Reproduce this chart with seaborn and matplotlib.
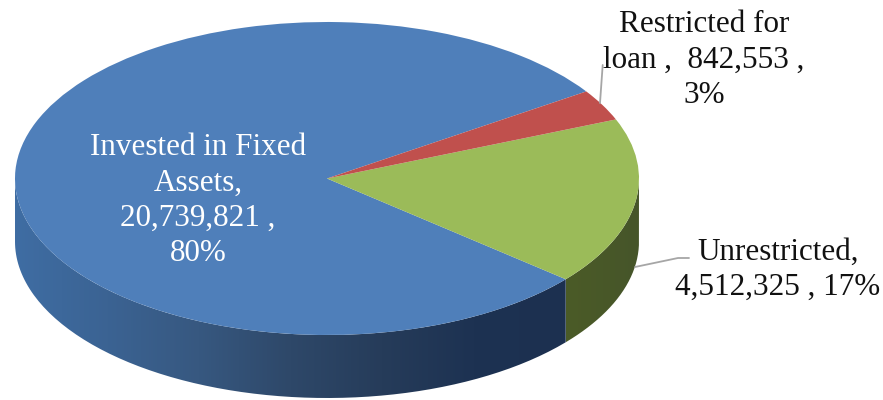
import numpy as np
import matplotlib
matplotlib.use("Agg")
import matplotlib.pyplot as plt
import seaborn as sns
from matplotlib.colors import LinearSegmentedColormap
from matplotlib.patches import PathPatch
from matplotlib.path import Path

categories = ["Invested in Fixed Assets", "Unrestricted", "Restricted for loan"]
values = [20739821, 4512325, 842553]
percents = [80, 17, 3]
top_colors = ["#4F7FBA", "#9BBB59", "#C0504D"]

W, H = 883, 400
CX, CY = 327, 178.5
RX, RY = 312, 156.5
DEPTH = 63 / RY
START = 33.8

sns.set_theme(style="white")
plt.rcParams["font.family"] = ["Liberation Serif", "DejaVu Serif"]

fig = plt.figure(figsize=(W / 100, H / 100), dpi=100)
ax = fig.add_axes([0, 0, 1, 1])


def px(x, y):
    return x / W, 1 - y / H


def side_path(a, b):
    t = np.radians(np.linspace(a, b, 120))
    xs = np.r_[np.cos(t), np.cos(t[::-1])]
    ys = np.r_[np.sin(t), np.sin(t[::-1]) - DEPTH]
    return Path(np.column_stack([xs, ys]))


limits = (-CX / RX, (W - CX) / RX, -(H - CY) / RY, CY / RY)

# side wall, one gradient per visible slice
sweeps = np.array(values) / sum(values) * 360
blue_end = START + sweeps[0]
blue_side = LinearSegmentedColormap.from_list(
    "blue_side", ["#3F6DA3", "#3B6393", "#375880", "#2E4869", "#263C5A", "#1D3252", "#1C3050"])
green_side = LinearSegmentedColormap.from_list("green_side", ["#4B5B27", "#46552A"])
grad = np.linspace(0, 1, 256).reshape(1, -1)
for a, b, cmap, x0, x1 in [(180, blue_end, blue_side, -1, np.cos(np.radians(blue_end))),
                           (blue_end, 360, green_side, np.cos(np.radians(blue_end)), 1)]:
    im = ax.imshow(grad, cmap=cmap, aspect="auto", extent=(x0, x1, -2, 2), zorder=1)
    patch = PathPatch(side_path(a, b), transform=ax.transData, fc="none", ec="none")
    ax.add_patch(patch)
    im.set_clip_path(patch)

# top face
ax.pie(values, colors=top_colors, startangle=START, radius=1, center=(0, 0),
       wedgeprops={"linewidth": 0, "zorder": 3})
ax.set_aspect("auto")
ax.set_xlim(limits[0], limits[1])
ax.set_ylim(limits[2], limits[3])
ax.axis("off")

# leader lines
for xs, ys in [([602.7, 600], [65, 103]), ([635, 678, 689], [267, 258, 258])]:
    pts = [px(x, y) for x, y in zip(xs, ys)]
    ax.plot([p[0] for p in pts], [p[1] for p in pts], color="#A6A6A6", lw=1.3,
            transform=fig.transFigure, zorder=4)

size = 22.4
spacing = 1.285
fig.text(*px(198, 200.5), f"Invested in Fixed\nAssets,\n{values[0]:,} ,\n{percents[0]}%",
         color="white", fontsize=size, ha="center", va="center", linespacing=spacing)
fig.text(*px(704, 60), f"Restricted for\nloan ,  {values[2]:,} ,\n{percents[2]}%",
         color="#111111", fontsize=size, ha="center", va="center", linespacing=spacing)
fig.text(*px(778, 270), f"Unrestricted,\n{values[1]:,} , {percents[1]}%",
         color="#111111", fontsize=size, ha="center", va="center", linespacing=spacing)

fig.savefig("out.png", dpi=100)
